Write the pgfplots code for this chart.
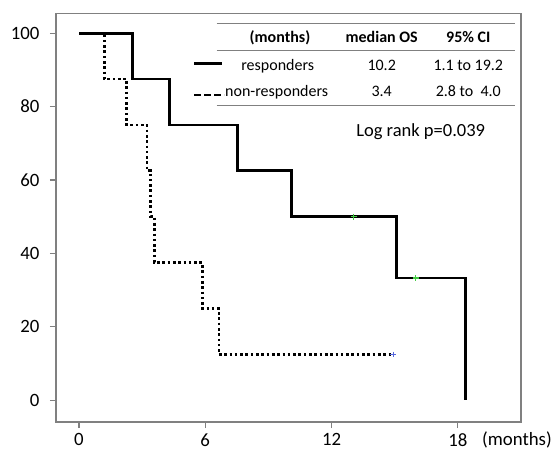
\documentclass[border=0pt]{standalone}
\usepackage{pgfplots}
\pgfplotsset{compat=1.18}
\usepackage{fontspec}
\setmainfont{Carlito}
\definecolor{axgray}{HTML}{808080}
\definecolor{cgreen}{HTML}{44CC44}
\definecolor{cblue}{HTML}{5566DD}
\begin{document}
\begin{tikzpicture}
\useasboundingbox (0,0) rectangle (555pt,-452pt);
\begin{axis}[
  at={(56pt,-422pt)}, anchor=south west,
  scale only axis, width=465pt, height=408.7pt,
  xmin=-1.09, xmax=21.0, ymin=-5.9, ymax=105.4,
  xtick={0,6,12,18}, ytick={0,20,40,60,80,100},
  xtick pos=bottom, ytick pos=left,
  tick align=outside, major tick length=6pt,
  axis line style={axgray, line width=1.3pt},
  every tick/.style={axgray, line width=1.2pt},
  tick label style={font=\fontsize{18.8}{20}\selectfont, black},
  /pgf/number format/assume math mode=true,
  xticklabel style={yshift=-2pt},
  yticklabel style={xshift=-7pt},
  clip=false,
]
\addplot[const plot, black, line width=2.8pt] coordinates {
 (0.01,100) (2.55,87.5) (4.29,75) (7.52,62.5) (10.10,50) (15.09,33.33) (18.38,0)
};
\addplot[const plot, black, line width=2.7pt, dash pattern=on 2.6pt off 2.7pt] coordinates {
 (0.01,100) (1.20,87.5) (2.27,75) (3.23,62.5) (3.41,50) (3.58,37.5) (5.86,25) (6.65,12.5) (14.93,12.5)
};
\addplot[only marks, mark=+, mark size=2.8pt, cgreen, line width=1.2pt] coordinates {(13.06,50) (16.0,33.33)};
\addplot[only marks, mark=+, mark size=2.8pt, cblue, line width=1.2pt] coordinates {(14.93,12.5)};
\end{axis}
% table
\draw[axgray, line width=1pt] (216.7pt,-23.3pt) -- (515pt,-23.3pt);
\draw[axgray, line width=1pt] (216.7pt,-50.7pt) -- (515pt,-50.7pt);
\draw[axgray, line width=1pt] (216.7pt,-106pt) -- (515pt,-106pt);
\begin{scope}[every node/.style={inner sep=0pt, anchor=base, font=\fontsize{16}{18}\selectfont}]
\node at (280pt,-42.7pt) {\bfseries (months)};
\node at (381.7pt,-42.7pt) {\bfseries median OS};
\node at (468.3pt,-42.7pt) {\bfseries 95\% CI};
\node at (277.7pt,-70.7pt) {responders};
\node at (381.7pt,-70.7pt) {10.2};
\node at (468.3pt,-70.7pt) {1.1 to 19.2};
\node at (276.7pt,-96.7pt) {non-responders};
\node at (381.7pt,-96.7pt) {3.4};
\node at (468.3pt,-96.7pt) {2.8 to\ \ 4.0};
\end{scope}
\draw[black, line width=2.4pt] (194pt,-63.5pt) -- (222pt,-63.5pt);
\draw[black, line width=2.4pt, dash pattern=on 6.5pt off 3.5pt] (194pt,-95pt) -- (224pt,-95pt);
\node[inner sep=0pt, anchor=base, font=\fontsize{18.5}{20}\selectfont] at (420.7pt,-136.7pt) {Log rank p=0.039};
\node[inner sep=0pt, anchor=west, font=\fontsize{18.8}{20}\selectfont] at (482pt,-440pt) {(months)};
\end{tikzpicture}
\end{document}
